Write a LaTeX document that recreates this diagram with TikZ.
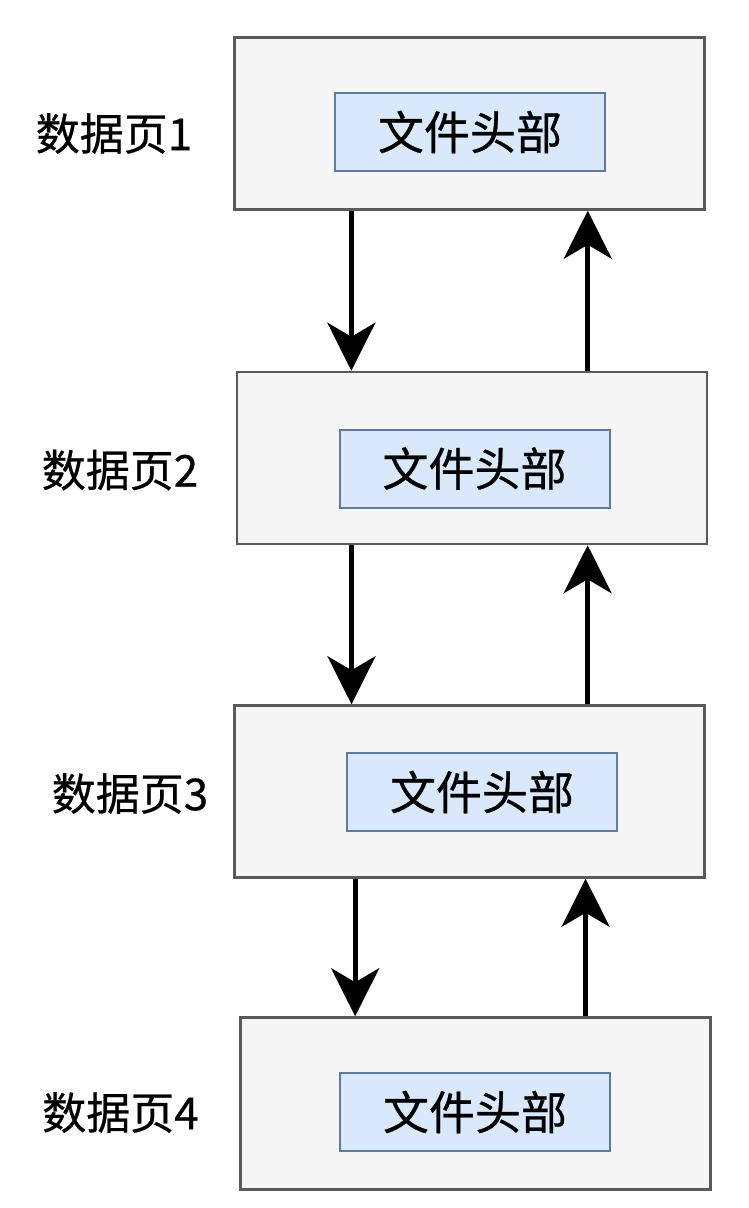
\documentclass[tikz,border=0pt]{standalone}
\usepackage{fontspec}
\newfontfamily\cjk[FakeBold=0.6]{Noto Sans CJK SC}
\usetikzlibrary{arrows.meta,calc}
\definecolor{pagefill}{HTML}{F5F5F5}
\definecolor{pageline}{HTML}{5A5A5A}
\definecolor{headfill}{HTML}{DAE8FC}
\definecolor{headline}{HTML}{5F7A9C}
\tikzset{
  pagebox/.style={draw=pageline, fill=pagefill, line width=2.5pt, minimum width=470pt, minimum height=172pt, inner sep=0pt},
  headbox/.style={draw=headline, fill=headfill, line width=2pt, minimum width=270pt, minimum height=78pt, inner sep=0pt, font=\cjk\fontsize{46}{50}\selectfont, text=black},
  pagelabel/.style={font=\cjk\fontsize{44}{48}\selectfont, text=black, inner sep=0pt},
  arr/.style={line width=5pt, -{Stealth[length=48pt, width=48pt, inset=14pt]}}
}
\begin{document}
\begin{tikzpicture}[x=1pt,y=-1pt]
\useasboundingbox (0,0) rectangle (748,1208);
\fill[white] (0,0) rectangle (748,1208);
% pages
\node[pagebox] (b1) at (469.5,123.5) {};
\node[pagebox] (b2) at (472,458) {};
\node[pagebox] (b3) at (469.5,791.5) {};
\node[pagebox] (b4) at (475.5,1103.5) {};
% headers
\node[headbox] (h1) at (470,132) {文件头部};
\node[headbox] (h2) at (474.5,468.5) {文件头部};
\node[headbox] (h3) at (482,792) {文件头部};
\node[headbox] (h4) at (475,1112) {文件头部};
% labels
\node[pagelabel] (l1) at (114,133.5) {数据页1};
\node[pagelabel] (l2) at (120,470) {数据页2};
\node[pagelabel] (l3) at (130,793.5) {数据页3};
\node[pagelabel] (l4) at (120.5,1112.5) {数据页4};
% arrows down
\coordinate (d1) at ($(b1.south west)!.25!(b1.south east)$);
\draw[arr] (d1) -- (d1 |- b2.north);
\coordinate (d2) at ($(b2.south west)!.245!(b2.south east)$);
\draw[arr] (d2) -- (d2 |- b3.north);
\coordinate (d3) at ($(b3.south west)!.258!(b3.south east)$);
\draw[arr] (d3) -- (d3 |- b4.north);
% arrows up
\coordinate (u1) at ($(b2.north west)!.745!(b2.north east)$);
\draw[arr] (u1) -- (u1 |- b1.south);
\coordinate (u2) at ($(b3.north west)!.75!(b3.north east)$);
\draw[arr] (u2) -- (u2 |- b2.south);
\coordinate (u3) at ($(b4.north west)!.733!(b4.north east)$);
\draw[arr] (u3) -- (u3 |- b3.south);
\end{tikzpicture}
\end{document}
